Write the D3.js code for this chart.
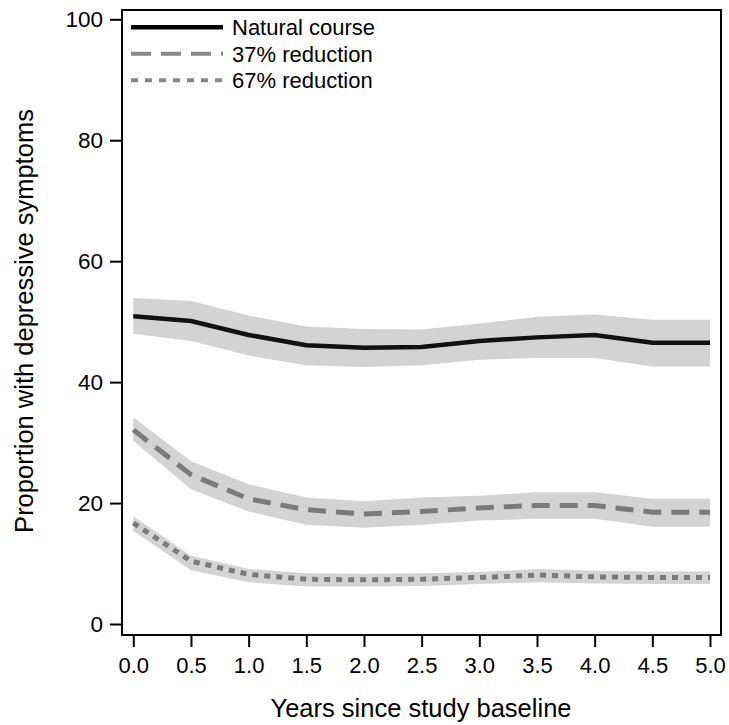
<!DOCTYPE html>
<html>
<head>
<meta charset="utf-8">
<script src="https://cdn.jsdelivr.net/npm/d3@7"></script>
<style>
  body { margin: 0; background: #fff; }
  text { font-family: "Liberation Sans", Arial, sans-serif; fill: #000; }
</style>
</head>
<body>
<div id="chart"></div>
<script>
// data
var years = [0, 0.5, 1, 1.5, 2, 2.5, 3, 3.5, 4, 4.5, 5];
var naturalCourse = [50.9, 50.1, 47.8, 46.1, 45.7, 45.8, 46.8, 47.4, 47.8, 46.5, 46.5];
var naturalLower  = [48.0, 46.8, 44.4, 42.8, 42.5, 42.8, 43.7, 44.0, 44.0, 42.6, 42.6];
var naturalUpper  = [53.9, 53.4, 51.0, 49.2, 48.8, 48.7, 49.7, 50.8, 51.2, 50.3, 50.3];
var reduce37      = [32.1, 24.7, 20.7, 18.9, 18.2, 18.6, 19.2, 19.6, 19.6, 18.5, 18.5];
var reduce37Lower = [30.3, 22.3, 18.6, 16.4, 15.9, 16.4, 17.1, 17.4, 17.4, 16.1, 16.1];
var reduce37Upper = [34.2, 26.9, 23.1, 20.9, 20.3, 20.9, 21.2, 21.8, 21.8, 20.7, 20.7];
var reduce67      = [16.7, 10.4, 8.2, 7.4, 7.3, 7.4, 7.7, 8.1, 7.8, 7.7, 7.7];
var reduce67Lower = [15.4, 8.9, 6.9, 6.2, 6.2, 6.3, 6.6, 6.9, 6.7, 6.6, 6.6];
var reduce67Upper = [17.8, 11.3, 9.1, 8.4, 8.3, 8.4, 8.6, 9.1, 8.8, 8.7, 8.7];
var seriesNames = ["Natural course", "37% reduction", "67% reduction"];
var yTicks = [0, 20, 40, 60, 80, 100];

var width = 729, height = 725;
var frame = { left: 122, right: 721, top: 10, bottom: 635 };

var x = d3.scaleLinear().domain([0, 5]).range([133.3, 710]);
var y = d3.scaleLinear().domain([0, 100]).range([624, 19.3]);

var svg = d3.select("#chart").append("svg")
    .attr("width", width)
    .attr("height", height);

var series = [
  { name: seriesNames[0], mid: naturalCourse, lo: naturalLower, hi: naturalUpper, color: "#111", width: 4.5, dash: null },
  { name: seriesNames[1], mid: reduce37, lo: reduce37Lower, hi: reduce37Upper, color: "#7a7a7a", width: 5, dash: "18,10" },
  { name: seriesNames[2], mid: reduce67, lo: reduce67Lower, hi: reduce67Upper, color: "#7a7a7a", width: 5, dash: "6,6" }
];

var area = d3.area()
    .x(function(d, i) { return x(years[i]); })
    .y0(function(d) { return y(d[0]); })
    .y1(function(d) { return y(d[1]); });

var line = d3.line()
    .x(function(d, i) { return x(years[i]); })
    .y(function(d) { return y(d); });

// bands first
svg.append("g").selectAll("path")
    .data(series)
    .enter().append("path")
    .attr("d", function(s) { return area(s.lo.map(function(v, i) { return [v, s.hi[i]]; })); })
    .attr("fill", "#d3d3d3");

svg.append("g").selectAll("path")
    .data(series)
    .enter().append("path")
    .attr("d", function(s) { return line(s.mid); })
    .attr("fill", "none")
    .attr("stroke", function(s) { return s.color; })
    .attr("stroke-width", function(s) { return s.width; })
    .attr("stroke-dasharray", function(s) { return s.dash; });

// frame
svg.append("rect")
    .attr("x", frame.left).attr("y", frame.top)
    .attr("width", frame.right - frame.left)
    .attr("height", frame.bottom - frame.top)
    .attr("fill", "none")
    .attr("stroke", "#000")
    .attr("stroke-width", 2);

// y axis
var yAxis = svg.append("g")
    .attr("transform", "translate(" + frame.left + ",0)")
    .call(d3.axisLeft(y).tickValues(yTicks).tickSize(12).tickPadding(7));
yAxis.select(".domain").remove();
yAxis.selectAll("line").attr("stroke", "#000").attr("stroke-width", 2);
yAxis.selectAll("text").style("font-size", "22.5px").attr("font-family", null);

// x axis
var xAxis = svg.append("g")
    .attr("transform", "translate(0," + frame.bottom + ")")
    .call(d3.axisBottom(x).tickValues(years).tickFormat(d3.format(".1f")).tickSize(12).tickPadding(10));
xAxis.select(".domain").remove();
xAxis.selectAll("line").attr("stroke", "#000").attr("stroke-width", 2);
xAxis.selectAll("text").style("font-size", "22px").attr("font-family", null);

// axis titles
svg.append("text")
    .attr("transform", "translate(33," + 321 + ") rotate(-90)")
    .attr("text-anchor", "middle")
    .style("font-size", "25.5px")
    .text("Proportion with depressive symptoms");

svg.append("text")
    .attr("x", 421).attr("y", 717)
    .attr("text-anchor", "middle")
    .style("font-size", "25.5px")
    .text("Years since study baseline");

// legend
var legend = svg.append("g").selectAll("g")
    .data(series)
    .enter().append("g")
    .attr("transform", function(d, i) { return "translate(131," + (27.3 + i * 26.5) + ")"; });

legend.append("line")
    .attr("x1", 0).attr("x2", 92)
    .attr("stroke", function(s) { return s.name === seriesNames[0] ? "#000" : "#888"; })
    .attr("stroke-width", function(s) { return s.name === seriesNames[0] ? 4.5 : 4; })
    .attr("stroke-dasharray", function(s) { return s.name === seriesNames[0] ? null : (s.dash === "6,6" ? "7,7" : "20,10"); });

legend.append("text")
    .attr("x", 101).attr("y", 8)
    .style("font-size", "22px")
    .text(function(s) { return s.name; });
</script>
</body>
</html>
